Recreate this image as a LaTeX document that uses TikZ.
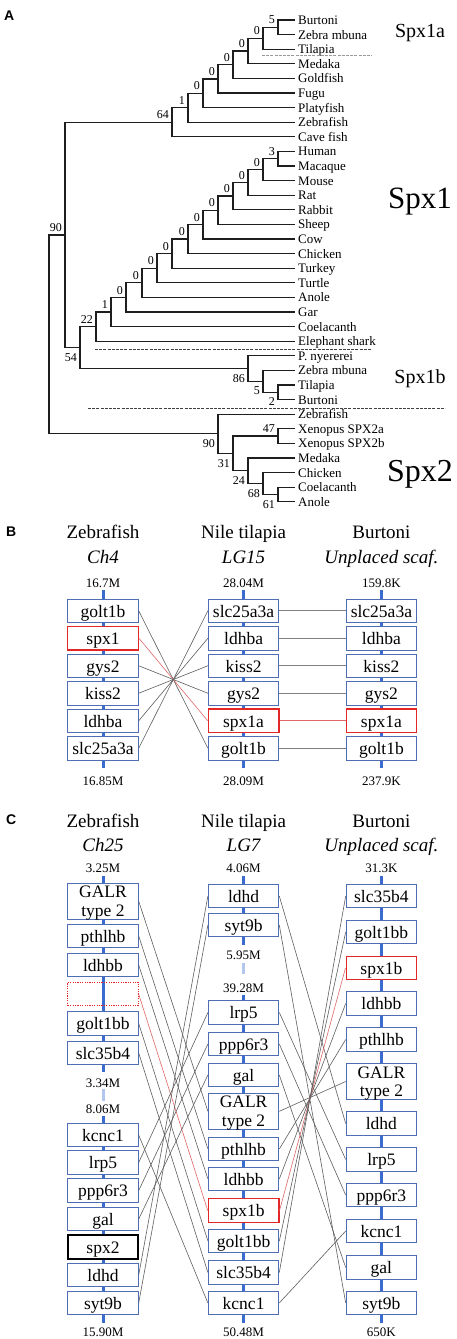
\documentclass[tikz,border=0pt]{standalone}
\usepackage{fontspec}
\setmainfont{Liberation Serif}
\newfontfamily\panelfont{Liberation Sans}
\usetikzlibrary{calc}
\definecolor{boxblue}{HTML}{4F6DB5}
\definecolor{axisblue}{HTML}{3A6CD0}
\definecolor{gapblue}{HTML}{B3C7EE}
\definecolor{boxred}{HTML}{E32626}
\definecolor{linkred}{HTML}{E06666}
\definecolor{linkgray}{HTML}{5E5E5E}
\definecolor{treeblack}{HTML}{1E1E1E}
\begin{document}
\begin{tikzpicture}[x=1pt,y=-1pt,
  br/.style={line width=1.3pt, draw=treeblack},
  leaf/.style={anchor=base west, inner sep=0pt, font=\fontsize{13}{13}\selectfont},
  bsup/.style={anchor=south east, inner sep=0.5pt, font=\fontsize{12}{12}\selectfont},
  bsdn/.style={anchor=north east, inner sep=0.5pt, font=\fontsize{12}{12}\selectfont},
  sepline/.style={dash pattern=on 3pt off 1.2pt, line width=0.7pt, draw=black!75},
  seplight/.style={dash pattern=on 3pt off 1.2pt, line width=0.7pt, draw=black!40},
  grp/.style={anchor=base, inner sep=0pt},
  panel/.style={anchor=base west, inner sep=0pt, font=\panelfont\bfseries\fontsize{14}{14}\selectfont},
  hdr/.style={anchor=base, inner sep=0pt, font=\fontsize{19}{19}\selectfont},
  hdri/.style={anchor=base, inner sep=0pt, font=\itshape\fontsize{19}{19}\selectfont},
  numlab/.style={anchor=base, inner sep=0pt, font=\fontsize{13}{13}\selectfont},
  axisline/.style={line width=3pt, draw=axisblue},
  gapline/.style={line width=3pt, draw=gapblue},
  gene/.style={draw=boxblue, fill=white, line width=0.9pt, minimum width=70.5pt,
     minimum height=23.5pt, inner sep=0pt, text height=12.5pt, text depth=0pt,
     font=\fontsize{17.5}{17.5}\selectfont},
  redgene/.style={gene, draw=boxred, line width=1.3pt},
  blackgene/.style={gene, draw=black, line width=2.2pt},
  dotgene/.style={draw=boxred, dash pattern=on 1.2pt off 1.2pt, line width=0.8pt,
     minimum width=70.5pt, minimum height=23.5pt, inner sep=0pt},
  tallgene/.style={gene, minimum height=36pt},
  genetxt/.style={anchor=base, inner sep=0pt, font=\fontsize{17.5}{17.5}\selectfont},
  conn/.style={line width=0.6pt, draw=linkgray},
  connred/.style={line width=0.6pt, draw=linkred}
]
\fill[white] (0,0) rectangle (457,1339);
\useasboundingbox (0,0) rectangle (457,1339);

% ================= Panel A =================
\node[panel] (PA) at (4,20) {A};

\foreach \nm [count=\i from 0] in {Burtoni,Zebra mbuna,Tilapia,Medaka,Goldfish,Fugu,Platyfish,Zebrafish,Cave fish,Human,Macaque,Mouse,Rat,Rabbit,Sheep,Cow,Chicken,Turkey,Turtle,Anole,Gar,Coelacanth,Elephant shark,P. nyererei,Zebra mbuna,Tilapia,Burtoni,Zebrafish,Xenopus SPX2a,Xenopus SPX2b,Medaka,Chicken,Coelacanth,Anole}{
  \coordinate (l\i) at (295,{20+14.6*\i});
  \node[leaf] (t\i) at ([xshift=3pt,yshift=-4.5pt]l\i) {\nm};
}

% internal nodes
\coordinate (n1) at (278,27.3);
\coordinate (n2) at (263,38.25);
\coordinate (n3) at (248,51.03);
\coordinate (n4) at (233,64.71);
\coordinate (n5) at (218,78.86);
\coordinate (n6) at (203,93.23);
\coordinate (n7) at (188,107.71);
\coordinate (n8) at (172,122.26);
\coordinate (m1) at (278,158.7);
\coordinate (m2) at (263,169.65);
\coordinate (m3) at (248,182.43);
\coordinate (m4) at (233,196.11);
\coordinate (m5) at (218,210.26);
\coordinate (m6) at (203,224.63);
\coordinate (m7) at (188,239.11);
\coordinate (m8) at (172,253.66);
\coordinate (m9) at (157,268.23);
\coordinate (m10) at (142,282.81);
\coordinate (m11) at (126,297.41);
\coordinate (m12) at (111,312);
\coordinate (m13) at (96,326.6);
\coordinate (b1) at (278,392.3);
\coordinate (b2) at (263,381.35);
\coordinate (b3) at (248,368.58);
\coordinate (k54) at (80,347.59);
\coordinate (sp1) at (65,234.93);
\coordinate (s1) at (278,436.1);
\coordinate (s2) at (278,494.5);
\coordinate (s3) at (263,483.55);
\coordinate (s4) at (248,470.78);
\coordinate (s5) at (233,453.44);
\coordinate (s6) at (218,433.82);
\coordinate (root) at (49,334.38);

\draw[br] (n1) |- (l0) (n1) |- (l1)
  (n2) |- (n1) (n2) |- (l2)
  (n3) |- (n2) (n3) |- (l3)
  (n4) |- (n3) (n4) |- (l4)
  (n5) |- (n4) (n5) |- (l5)
  (n6) |- (n5) (n6) |- (l6)
  (n7) |- (n6) (n7) |- (l7)
  (n8) |- (n7) (n8) |- (l8)
  (m1) |- (l9) (m1) |- (l10)
  (m2) |- (m1) (m2) |- (l11)
  (m3) |- (m2) (m3) |- (l12)
  (m4) |- (m3) (m4) |- (l13)
  (m5) |- (m4) (m5) |- (l14)
  (m6) |- (m5) (m6) |- (l15)
  (m7) |- (m6) (m7) |- (l16)
  (m8) |- (m7) (m8) |- (l17)
  (m9) |- (m8) (m9) |- (l18)
  (m10) |- (m9) (m10) |- (l19)
  (m11) |- (m10) (m11) |- (l20)
  (m12) |- (m11) (m12) |- (l21)
  (m13) |- (m12) (m13) |- (l22)
  (b1) |- (l25) (b1) |- (l26)
  (b2) |- (l24) (b2) |- (b1)
  (b3) |- (l23) (b3) |- (b2)
  (k54) |- (m13) (k54) |- (b3)
  (sp1) |- (n8) (sp1) |- (k54)
  (s1) |- (l28) (s1) |- (l29)
  (s2) |- (l32) (s2) |- (l33)
  (s3) |- (l31) (s3) |- (s2)
  (s4) |- (l30) (s4) |- (s3)
  (s5) |- (s1) (s5) |- (s4)
  (s6) |- (l27) (s6) |- (s5)
  (root) |- (sp1) (root) |- (s6);

% bootstrap values (above)
\foreach \nd/\v in {n1/5,n2/0,n3/0,n4/0,n5/0,n6/0,n7/1,n8/64,m1/3,m2/0,m3/0,m4/0,m5/0,m6/0,m7/0,m8/0,m9/0,m10/0,m11/0,m12/1,m13/22,sp1/90,s1/47}{
  \node[bsup] (v\nd) at ([xshift=-2.5pt,yshift=2.5pt]\nd) {\v};
}
% bootstrap values (below)
\foreach \nd/\v in {k54/54,b3/86,b2/5,b1/2,s6/90,s5/31,s4/24,s3/68,s2/61}{
  \node[bsdn] (v\nd) at ([xshift=-2.5pt,yshift=-5pt]\nd) {\v};
}

% separators
\coordinate (dA1) at (262,55.7);  \coordinate (dA2) at (372,55.7);
\coordinate (dB1) at (95,349);    \coordinate (dB2) at (372,349);
\coordinate (dC1) at (88,408.3);  \coordinate (dC2) at (445,408.3);
\draw[seplight] (dA1) -- (dA2);
\draw[sepline] (dB1) -- (dB2);
\draw[sepline] (dC1) -- (dC2);

\node[grp, font=\fontsize{20}{20}\selectfont] (G1a) at (420,37.3) {Spx1a};
\node[grp, font=\fontsize{31}{31}\selectfont] (G1) at (420,208.5) {Spx1};
\node[grp, font=\fontsize{20}{20}\selectfont] (G1b) at (420,383.5) {Spx1b};
\node[grp, font=\fontsize{32}{32}\selectfont] (G2) at (420,481.5) {Spx2};

% ================= Panel B =================
\node[panel] (PB) at (6,536) {B};
\node[hdr] (Bh1) at (103,538) {Zebrafish};
\node[hdri] (Bh1i) at (103,563) {Ch4};
\node[hdr] (Bh2) at (243.6,538) {Nile tilapia};
\node[hdri] (Bh2i) at (243.6,563) {LG15};
\node[hdr] (Bh3) at (381.4,538) {Burtoni};
\node[hdri] (Bh3i) at (381.4,563) {Unplaced scaf.};

\node[numlab] (Bn1a) at (103,587) {16.7M};
\node[numlab] (Bn2a) at (243.6,587) {28.04M};
\node[numlab] (Bn3a) at (381.4,587) {159.8K};
\node[numlab] (Bn1b) at (103,785) {16.85M};
\node[numlab] (Bn2b) at (243.6,785) {28.09M};
\node[numlab] (Bn3b) at (381.4,785) {237.9K};

\coordinate (Bza) at (103,590);   \coordinate (Bzb) at (103,768);
\coordinate (Bta) at (243.6,590); \coordinate (Btb) at (243.6,768);
\coordinate (Bba) at (381.4,590); \coordinate (Bbb) at (381.4,768);
\draw[axisline] (Bza) -- (Bzb);
\draw[axisline] (Bta) -- (Btb);
\draw[axisline] (Bba) -- (Bbb);

\node[gene] (Bz1) at (103,610.75) {golt1b};
\node[redgene] (Bz2) at (103,638.25) {spx1};
\node[gene] (Bz3) at (103,665.75) {gys2};
\node[gene] (Bz4) at (103,693.25) {kiss2};
\node[gene] (Bz5) at (103,720.75) {ldhba};
\node[gene] (Bz6) at (103,748.25) {slc25a3a};

\node[gene] (Bt1) at (243.6,610.75) {slc25a3a};
\node[gene] (Bt2) at (243.6,638.25) {ldhba};
\node[gene] (Bt3) at (243.6,665.75) {kiss2};
\node[gene] (Bt4) at (243.6,693.25) {gys2};
\node[redgene] (Bt5) at (243.6,720.75) {spx1a};
\node[gene] (Bt6) at (243.6,748.25) {golt1b};

\node[gene] (Bb1) at (381.4,610.75) {slc25a3a};
\node[gene] (Bb2) at (381.4,638.25) {ldhba};
\node[gene] (Bb3) at (381.4,665.75) {kiss2};
\node[gene] (Bb4) at (381.4,693.25) {gys2};
\node[redgene] (Bb5) at (381.4,720.75) {spx1a};
\node[gene] (Bb6) at (381.4,748.25) {golt1b};

\draw[conn] (Bz1.east) -- (Bt6.west);
\draw[connred] (Bz2.east) -- (Bt5.west);
\draw[conn] (Bz3.east) -- (Bt4.west);
\draw[conn] (Bz4.east) -- (Bt3.west);
\draw[conn] (Bz5.east) -- (Bt2.west);
\draw[conn] (Bz6.east) -- (Bt1.west);
\draw[conn, draw=black!50] (Bt1.east) -- (Bb1.west);
\draw[conn, draw=black!50] (Bt2.east) -- (Bb2.west);
\draw[conn, draw=black!50] (Bt3.east) -- (Bb3.west);
\draw[conn, draw=black!50] (Bt4.east) -- (Bb4.west);
\draw[connred] (Bt5.east) -- (Bb5.west);
\draw[conn, draw=black!50] (Bt6.east) -- (Bb6.west);

% ================= Panel C =================
\node[panel] (PC) at (6,824) {C};
\node[hdr] (Ch1) at (103,827) {Zebrafish};
\node[hdri] (Ch1i) at (103,851) {Ch25};
\node[hdr] (Ch2) at (243.6,827) {Nile tilapia};
\node[hdri] (Ch2i) at (243.6,851) {LG7};
\node[hdr] (Ch3) at (381.4,827) {Burtoni};
\node[hdri] (Ch3i) at (381.4,851) {Unplaced scaf.};

\node[numlab] (Cn1a) at (103,872) {3.25M};
\node[numlab] (Cn2a) at (243.6,872) {4.06M};
\node[numlab] (Cn3a) at (381.4,872) {31.3K};
\node[numlab] (Cn1m1) at (103,1087) {3.34M};
\node[numlab] (Cn1m2) at (103,1113) {8.06M};
\node[numlab] (Cn2m1) at (243.6,959) {5.95M};
\node[numlab] (Cn2m2) at (243.6,992) {39.28M};
\node[numlab] (Cn1b) at (103,1336) {15.90M};
\node[numlab] (Cn2b) at (243.6,1336) {50.48M};
\node[numlab] (Cn3b) at (381.4,1336) {650K};

\coordinate (Cza) at (103,876);  \coordinate (Czb) at (103,1072);
\coordinate (Czc) at (103,1089); \coordinate (Czd) at (103,1101);
\coordinate (Cze) at (103,1116); \coordinate (Czf) at (103,1323);
\coordinate (Cta) at (243.6,876);  \coordinate (Ctb) at (243.6,945);
\coordinate (Ctc) at (243.6,963);  \coordinate (Ctd) at (243.6,974);
\coordinate (Cte) at (243.6,995);  \coordinate (Ctf) at (243.6,1323);
\coordinate (Cba) at (381.4,876);  \coordinate (Cbb) at (381.4,1323);
\draw[axisline] (Cza) -- (Czb);
\draw[gapline] (Czc) -- (Czd);
\draw[axisline] (Cze) -- (Czf);
\draw[axisline] (Cta) -- (Ctb);
\draw[gapline] (Ctc) -- (Ctd);
\draw[axisline] (Cte) -- (Ctf);
\draw[axisline] (Cba) -- (Cbb);

% left column
\node[tallgene] (CzGALR) at (103,901.3) {};
\node[genetxt] (CzGALRa) at (103,897.8) {GALR};
\node[genetxt] (CzGALRb) at (103,916.3) {type 2};
\node[gene] (Czpth) at (103,936) {pthlhb};
\node[gene] (Czldhbb) at (103,965) {ldhbb};
\node[dotgene] (Czdot) at (103,994) {};
\node[gene] (Czgolt) at (103,1023.5) {golt1bb};
\node[gene] (Czslc) at (103,1053) {slc35b4};
\node[gene] (Czkcnc) at (103,1135) {kcnc1};
\node[gene] (Czlrp) at (103,1162.5) {lrp5};
\node[gene] (Czppp) at (103,1190.5) {ppp6r3};
\node[gene] (Czgal) at (103,1219) {gal};
\node[blackgene] (Czspx) at (103,1247) {spx2};
\node[gene] (Czldhd) at (103,1275) {ldhd};
\node[gene] (Czsyt) at (103,1303) {syt9b};

% middle column
\node[gene] (Ctldhd) at (243.6,896) {ldhd};
\node[gene] (Ctsyt) at (243.6,925) {syt9b};
\node[gene] (Ctlrp) at (243.6,1012.5) {lrp5};
\node[gene] (Ctppp) at (243.6,1044) {ppp6r3};
\node[gene] (Ctgal) at (243.6,1075) {gal};
\node[tallgene] (CtGALR) at (243.6,1111.3) {};
\node[genetxt] (CtGALRa) at (243.6,1107.8) {GALR};
\node[genetxt] (CtGALRb) at (243.6,1126.3) {type 2};
\node[gene] (Ctpth) at (243.6,1149) {pthlhb};
\node[gene] (Ctldhbb) at (243.6,1179) {ldhbb};
\node[redgene] (Ctspx) at (243.6,1210.5) {spx1b};
\node[gene] (Ctgolt) at (243.6,1241) {golt1bb};
\node[gene] (Ctslc) at (243.6,1272.5) {slc35b4};
\node[gene] (Ctkcnc) at (243.6,1303) {kcnc1};

% right column
\node[gene] (Cbslc) at (381.4,896) {slc35b4};
\node[gene] (Cbgolt) at (381.4,932) {golt1bb};
\node[redgene] (Cbspx) at (381.4,968) {spx1b};
\node[gene] (Cbldhbb) at (381.4,1003.5) {ldhbb};
\node[gene] (Cbpth) at (381.4,1039.5) {pthlhb};
\node[tallgene, minimum height=35.5pt] (CbGALR) at (381.4,1081.5) {};
\node[genetxt] (CbGALRa) at (381.4,1078) {GALR};
\node[genetxt] (CbGALRb) at (381.4,1096.5) {type 2};
\node[gene] (Cbldhd) at (381.4,1123.5) {ldhd};
\node[gene] (Cblrp) at (381.4,1159.5) {lrp5};
\node[gene] (Cbppp) at (381.4,1195) {ppp6r3};
\node[gene] (Cbkcnc) at (381.4,1231) {kcnc1};
\node[gene] (Cbgal) at (381.4,1267.5) {gal};
\node[gene] (Cbsyt) at (381.4,1303) {syt9b};

% left -> middle
\draw[conn] (CzGALR.east) -- (CtGALR.west);
\draw[conn] (Czpth.east) -- (Ctpth.west);
\draw[conn] (Czldhbb.east) -- (Ctldhbb.west);
\draw[connred] (Czdot.east) -- (Ctspx.west);
\draw[conn] (Czgolt.east) -- (Ctgolt.west);
\draw[conn] (Czslc.east) -- (Ctslc.west);
\draw[conn] (Czkcnc.east) -- (Ctkcnc.west);
\draw[conn] (Czlrp.east) -- (Ctlrp.west);
\draw[conn] (Czppp.east) -- (Ctppp.west);
\draw[conn] (Czgal.east) -- (Ctgal.west);
\draw[conn] (Czldhd.east) -- (Ctldhd.west);
\draw[conn] (Czsyt.east) -- (Ctsyt.west);
% middle -> right
\draw[conn] (Ctldhd.east) -- (Cbldhd.west);
\draw[conn] (Ctsyt.east) -- (Cbsyt.west);
\draw[conn] (Ctlrp.east) -- (Cblrp.west);
\draw[conn] (Ctppp.east) -- (Cbppp.west);
\draw[conn] (Ctgal.east) -- (Cbgal.west);
\draw[conn] (CtGALR.east) -- (CbGALR.west);
\draw[conn] (Ctpth.east) -- (Cbpth.west);
\draw[conn] (Ctldhbb.east) -- (Cbldhbb.west);
\draw[connred] (Ctspx.east) -- (Cbspx.west);
\draw[conn] (Ctgolt.east) -- (Cbgolt.west);
\draw[conn] (Ctslc.east) -- (Cbslc.west);
\draw[conn] (Ctkcnc.east) -- (Cbkcnc.west);
\end{tikzpicture}
\end{document}
